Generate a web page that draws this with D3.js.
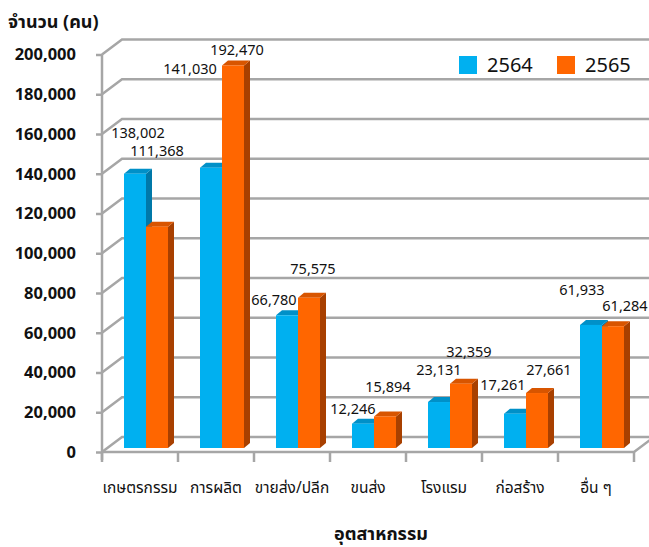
<!DOCTYPE html>
<html>
<head>
<meta charset="utf-8">
<script src="https://cdn.jsdelivr.net/npm/d3@7"></script>
<style>
  body { margin: 0; background: #fff; }
  text { font-family: Tahoma, "Noto Sans", "Noto Sans Thai", sans-serif; fill: #111; }
</style>
</head>
<body>
<div id="chart"></div>
<script>
// data
let categories = ['เกษตรกรรม', 'การผลิต', 'ขายส่ง/ปลีก', 'ขนส่ง', 'โรงแรม', 'ก่อสร้าง', 'อื่น ๆ'];
let seriesNames = ['2564', '2565'];
let values2564 = [138002, 141030, 66780, 12246, 23131, 17261, 61933];
let values2565 = [111368, 192470, 75575, 15894, 32359, 27661, 61284];
let yTicks = [0, 20000, 40000, 60000, 80000, 100000, 120000, 140000, 160000, 180000, 200000];

// label nudges (px) relative to the top of each bar, like the hand-moved Excel labels
let labelShift2564 = [[3, -41], [-21, -99], [-13, -15], [-10, -15], [0, -32], [-12, -29], [-9, -35]];
let labelShift2565 = [[0, -76], [4, -16], [4, -29], [3, -29], [8, -32], [12, -23], [12, -20]];

let svgWidth = 649;
let svgHeight = 547;

// 3d wall depth and bar depth
let wallDx = 20, wallDy = -15;
let barDx = 6, barDy = -5;
let faceDx = 6, faceDy = -4;

let colors = {
  '2564': { front: '#00b0f0', top: '#0090c8', side: '#0078a8' },
  '2565': { front: '#ff6600', top: '#d85500', side: '#a84000' }
};

let svg = d3.select('#chart').append('svg')
  .attr('width', svgWidth)
  .attr('height', svgHeight);

let x0 = d3.scaleBand()
  .domain(categories)
  .range([102, 634]);

let x1 = d3.scaleBand()
  .domain(seriesNames)
  .range([0, 44]);

let y = d3.scaleLinear()
  .domain([0, 200000])
  .range([452, 54.5]);

let gridColor = '#a6a6a6';

// back wall gridlines + side wall diagonals
let grid = svg.append('g');
yTicks.forEach(function (t) {
  grid.append('path')
    .attr('d', `M102,${y(t)} L${102 + wallDx},${y(t) + wallDy} L${654},${y(t) + wallDy}`)
    .attr('fill', 'none')
    .attr('stroke', gridColor)
    .attr('stroke-width', 2.5);
});

// floor front edge
grid.append('path')
  .attr('d', `M102,${y(0)} L634,${y(0)} L${634 + wallDx},${y(0) + wallDy}`)
  .attr('fill', 'none')
  .attr('stroke', gridColor)
  .attr('stroke-width', 2.5);

// y axis
let yAxis = d3.axisLeft(y)
  .tickValues(yTicks)
  .tickSize(6)
  .tickPadding(20)
  .tickFormat(d3.format(','));

let yAxisG = svg.append('g')
  .attr('transform', 'translate(102,0)')
  .call(yAxis);
yAxisG.select('.domain').attr('stroke', gridColor).attr('stroke-width', 2.5)
  .attr('d', `M0,${y(200000)} V${y(0) + 8}`);
yAxisG.selectAll('.tick line').attr('stroke', gridColor).attr('stroke-width', 2.5);
yAxisG.selectAll('.tick text')
  .attr('font-size', '16.5px')
  .attr('font-weight', 'bold')
  .attr('fill', '#111');

// x axis (category boundaries)
let xAxisG = svg.append('g');
categories.concat(['end']).forEach(function (c, i) {
  let xx = i < categories.length ? x0(c) : x0.range()[1];
  xAxisG.append('line')
    .attr('x1', xx).attr('x2', xx)
    .attr('y1', y(0)).attr('y2', y(0) + 10)
    .attr('stroke', gridColor)
    .attr('stroke-width', 2.5);
});
xAxisG.selectAll('.cat')
  .data(categories)
  .enter()
  .append('text')
  .attr('x', d => x0(d) + x0.bandwidth() / 2)
  .attr('y', 493)
  .attr('text-anchor', 'middle')
  .attr('font-size', '15.5px')
  .text(d => d);

// bars
let barData = [];
categories.forEach(function (c, i) {
  barData.push({ cat: c, series: '2564', value: values2564[i], shift: labelShift2564[i] });
  barData.push({ cat: c, series: '2565', value: values2565[i], shift: labelShift2565[i] });
});

let barW = x1.bandwidth();
let groupOffset = (x0.bandwidth() - 44) / 2;

let barsG = svg.append('g');
let bars = barsG.selectAll('.bar')
  .data(barData)
  .enter()
  .append('g')
  .classed('bar', true);

function barLeft(d) { return x0(d.cat) + groupOffset + x1(d.series) + faceDx; }
function barTop(d) { return y(d.value) + faceDy; }
function barBottom() { return y(0) + faceDy; }

// side faces
bars.append('path')
  .attr('d', function (d) {
    let r = barLeft(d) + barW, t = barTop(d), b = barBottom();
    return `M${r},${t} L${r + barDx},${t + barDy} L${r + barDx},${b + barDy} L${r},${b} Z`;
  })
  .attr('fill', d => colors[d.series].side);

// top faces
bars.append('path')
  .attr('d', function (d) {
    let l = barLeft(d), t = barTop(d);
    return `M${l},${t} L${l + barDx},${t + barDy} L${l + barW + barDx},${t + barDy} L${l + barW},${t} Z`;
  })
  .attr('fill', d => colors[d.series].top);

// front faces
bars.append('rect')
  .attr('x', d => barLeft(d))
  .attr('y', d => barTop(d))
  .attr('width', barW)
  .attr('height', d => barBottom() - barTop(d))
  .attr('fill', d => colors[d.series].front);

// value labels
barsG.selectAll('.vlabel')
  .data(barData)
  .enter()
  .append('text')
  .attr('x', d => barLeft(d) + barW / 2 + d.shift[0])
  .attr('y', d => barTop(d) + d.shift[1])
  .attr('dy', '0.35em')
  .attr('text-anchor', 'middle')
  .attr('font-size', '14.5px')
  .text(d => d3.format(',')(d.value));

// titles
svg.append('text')
  .attr('x', 8)
  .attr('y', 28)
  .attr('font-size', '18px')
  .attr('font-weight', 'bold')
  .text('จำนวน (คน)');

svg.append('text')
  .attr('x', 381)
  .attr('y', 540)
  .attr('text-anchor', 'middle')
  .attr('font-size', '18px')
  .attr('font-weight', 'bold')
  .text('อุตสาหกรรม');

// legend
let legend = svg.append('g');
seriesNames.forEach(function (s, i) {
  let lx = 459 + i * 98;
  legend.append('rect')
    .attr('x', lx).attr('y', 56)
    .attr('width', 18).attr('height', 18)
    .attr('fill', colors[s].front);
  legend.append('text')
    .attr('x', lx + 28)
    .attr('y', 72)
    .attr('font-size', '20px')
    .text(s);
});
</script>
</body>
</html>
